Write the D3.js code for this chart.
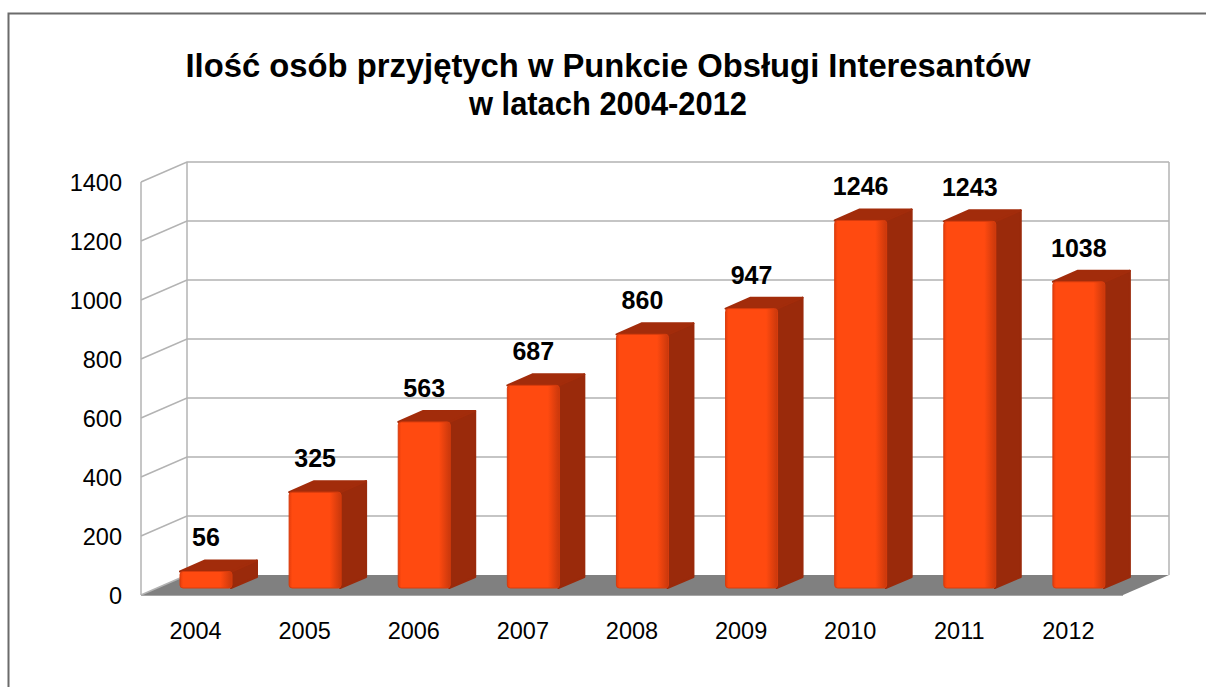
<!DOCTYPE html>
<html>
<head>
<meta charset="utf-8">
<script src="https://cdn.jsdelivr.net/npm/d3@7"></script>
<style>
    body { margin: 0; background: #fff; }
    text { font-family: "Liberation Sans", Arial, sans-serif; }
</style>
</head>
<body>
<svg id="chart" width="1206" height="687"></svg>
<script>
/* ======================== DATA ========================= */
/* ======================================================= */

const years  = ["2004", "2005", "2006", "2007", "2008", "2009", "2010", "2011", "2012"];
const counts = [56, 325, 563, 687, 860, 947, 1246, 1243, 1038];
const yTicks = [0, 200, 400, 600, 800, 1000, 1200, 1400];
const titleLines = ["Ilość osób przyjętych w Punkcie Obsługi Interesantów",
                    "w latach 2004-2012"];

/* ====================== GEOMETRY ======================= */

const floorY = 595, depthX = 46, depthY = -20;   // wall depth
const barShiftX = 16, barShiftY = -7;            // bar front plane
const barDepthX = 25, barDepthY = -11;           // bar thickness
const barOffset = 23, barWidth = 52;

const svg = d3.select("#chart");

const x = d3.scaleBand()
            .domain(years)
            .range([141, 1123])
            .padding(0);

const y = d3.scaleLinear()
            .domain([0, 1400])
            .range([floorY, 182]);

const data = years.map((yr, i) => ({ year: yr, value: counts[i] }));

/* =================== PUBLIC FUNCTIONS ================== */
/* ======================================================= */

function drawFrame() {
    svg.append("rect")
       .attr("x", 8.5)
       .attr("y", 13.5)
       .attr("width", 1300)
       .attr("height", 800)
       .attr("fill", "none")
       .attr("stroke", "#6b6b6b")
       .attr("stroke-width", 2);

    svg.append("g")
       .selectAll("text")
       .data(titleLines)
       .join("text")
       .attr("x", 608)
       .attr("y", (d, i) => 77 + i * 38)
       .attr("text-anchor", "middle")
       .attr("font-size", 34)
       .attr("font-weight", "bold")
       .attr("textLength", (d, i) => i === 0 ? 845 : 278)
       .attr("lengthAdjust", "spacingAndGlyphs")
       .text(d => d);
}

function drawWalls() {
    const x0 = x.range()[0], x1 = x.range()[1];
    const walls = svg.append("g").attr("id", "walls");

    // floor
    walls.append("polygon")
         .attr("points", [[x0, floorY], [x0 + depthX, floorY + depthY],
                          [x1 + depthX, floorY + depthY], [x1, floorY]].join(" "))
         .attr("fill", "#808080");

    walls.append("line")
         .attr("x1", x0).attr("y1", floorY + 0.5)
         .attr("x2", x1).attr("y2", floorY + 0.5)
         .attr("stroke", "#a6a6a6");

    // grid on back and side wall
    walls.selectAll(".grid")
         .data(yTicks.filter(t => t > 0))
         .join("polyline")
         .attr("class", "grid")
         .attr("points", d => [[x0, y(d)], [x0 + depthX, y(d) + depthY],
                               [x1 + depthX, y(d) + depthY]].join(" "))
         .attr("fill", "none")
         .attr("stroke", "#b3b3b3")
         .attr("stroke-width", 1.5);

    walls.append("line")
         .attr("x1", x0).attr("y1", y(1400))
         .attr("x2", x0).attr("y2", floorY)
         .attr("stroke", "#b3b3b3")
         .attr("stroke-width", 1.5);

    [x0 + depthX, x1 + depthX].forEach(xx => {
        walls.append("line")
             .attr("x1", xx).attr("y1", y(1400) + depthY)
             .attr("x2", xx).attr("y2", floorY + depthY)
             .attr("stroke", "#b3b3b3")
             .attr("stroke-width", 1.5);
    });
    walls.append("line")
         .attr("x1", x0).attr("y1", floorY)
         .attr("x2", x0 + depthX).attr("y2", floorY + depthY)
         .attr("stroke", "#b3b3b3")
         .attr("stroke-width", 1.5);
}

function drawAxes() {
    svg.append("g")
       .selectAll("text")
       .data(yTicks)
       .join("text")
       .attr("x", 122)
       .attr("y", d => y(d) + 9)
       .attr("text-anchor", "end")
       .attr("font-size", 23.5)
       .text(d => d);

    svg.append("g")
       .selectAll("text")
       .data(years)
       .join("text")
       .attr("x", d => x(d) + x.bandwidth() / 2)
       .attr("y", 639)
       .attr("text-anchor", "middle")
       .attr("font-size", 23.5)
       .text(d => d);
}

function drawBars() {
    const defs = svg.append("defs");
    const grad = defs.append("linearGradient")
                     .attr("id", "frontGrad")
                     .attr("x1", 0).attr("x2", 1)
                     .attr("y1", 0).attr("y2", 0);
    grad.append("stop").attr("offset", "0").attr("stop-color", "#e53d0c");
    grad.append("stop").attr("offset", "0.06").attr("stop-color", "#ff4a10");
    grad.append("stop").attr("offset", "0.78").attr("stop-color", "#ff4a10");
    grad.append("stop").attr("offset", "1").attr("stop-color", "#c9380c");

    const bars = svg.append("g")
                    .attr("id", "bars")
                    .selectAll("g")
                    .data(data)
                    .join("g");

    const left   = d => x(d.year) + barOffset + barShiftX;
    const right  = d => left(d) + barWidth;
    const top    = d => y(d.value) + barShiftY;
    const bottom = floorY + barShiftY;

    // side face
    bars.append("polygon")
        .attr("points", d => [[right(d) - 1, top(d)], [right(d) + barDepthX, top(d) + barDepthY],
                              [right(d) + barDepthX, bottom + barDepthY], [right(d) - 1, bottom]].join(" "))
        .attr("fill", "#9a2a0b")
        .attr("stroke", "#9a2a0b")
        .attr("stroke-linejoin", "round")
        .attr("stroke-width", 2);

    // top face
    bars.append("polygon")
        .attr("points", d => [[left(d), top(d)], [right(d), top(d)],
                              [right(d) + barDepthX, top(d) + barDepthY],
                              [left(d) + barDepthX, top(d) + barDepthY]].join(" "))
        .attr("fill", "#a22c0b")
        .attr("stroke", "#a22c0b")
        .attr("stroke-linejoin", "round")
        .attr("stroke-width", 2);

    // front face
    bars.append("rect")
        .attr("x", d => left(d))
        .attr("y", d => top(d))
        .attr("width", barWidth)
        .attr("height", d => bottom - top(d))
        .attr("rx", 3)
        .attr("fill", "url(#frontGrad)")
        .attr("stroke", "#d83c0d")
        .attr("stroke-width", 1);

    bars.append("text")
        .attr("x", d => left(d) + barWidth / 2)
        .attr("y", d => top(d) + barDepthY - 14)
        .attr("text-anchor", "middle")
        .attr("font-size", 25)
        .attr("font-weight", "bold")
        .text(d => d.value);
}

drawFrame();
drawWalls();
drawAxes();
drawBars();
</script>
</body>
</html>
